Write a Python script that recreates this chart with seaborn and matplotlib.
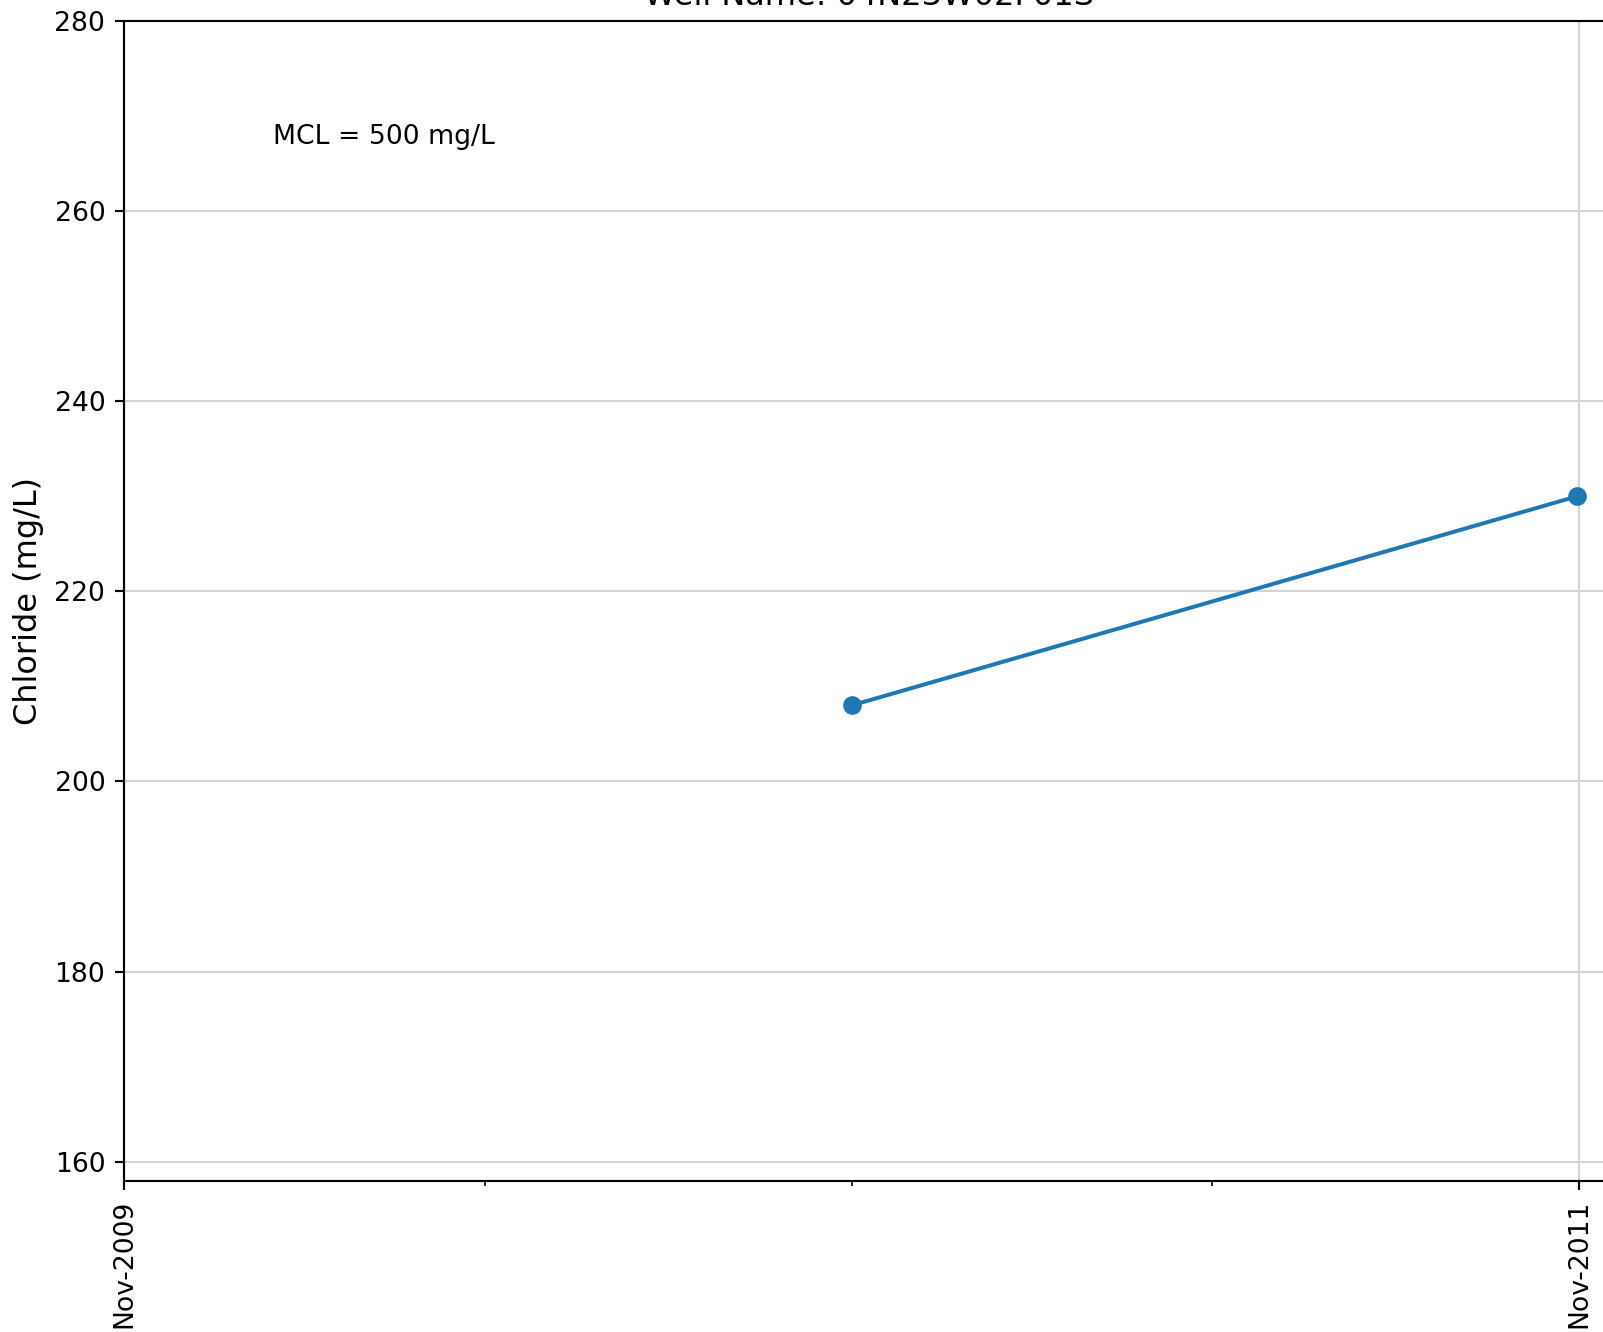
import matplotlib
matplotlib.use("Agg")
import matplotlib.pyplot as plt
import matplotlib.dates as mdates
import pandas as pd
import seaborn as sns

# Data
sample_dates = ["2010-11-01", "2011-10-31"]
chloride = [208, 230]
well_name = "04N23W02F01S"
mcl = 500
major_tick_dates = ["2009-11-01", "2011-11-01"]
x_range = ["2009-11-01", "2011-11-19"]
y_range = [158, 280]

df = pd.DataFrame({"date": pd.to_datetime(sample_dates), "value": chloride})

dpi = 192
fig = plt.figure(figsize=(1603 / dpi, 1332 / dpi), dpi=dpi)
# axes runs past the right edge of the figure, like the reference
ax = fig.add_axes([124 / 1603, 1 - 1180.7 / 1332, (1615 - 124) / 1603, (1180.7 - 21) / 1332])

sns.lineplot(
    data=df, x="date", y="value", ax=ax, marker="o", color="#1f77b4",
    markeredgecolor="#1f77b4", markeredgewidth=1, markersize=6, linewidth=1.5,
)

ax.set_xlim(pd.to_datetime(x_range[0]), pd.to_datetime(x_range[1]))
ax.set_ylim(*y_range)
ax.set_xticks(pd.to_datetime(major_tick_dates))
ax.xaxis.set_major_formatter(mdates.DateFormatter("%b-%Y"))
ax.xaxis.set_minor_locator(mdates.MonthLocator(bymonth=[5, 11]))
ax.tick_params(axis="x", which="major", labelrotation=90)
ax.tick_params(labelsize=10)

ax.grid(True, which="major", color="lightgray")
ax.set_axisbelow(True)

ax.set_xlabel("")
ax.set_ylabel("Chloride (mg/L)", fontsize=12)
ax.set_title(f"Well Name: {well_name}", fontsize=12)
ax.text(0.1, 0.9, f"MCL = {mcl} mg/L", transform=ax.transAxes, fontsize=10, va="center")

fig.savefig("out.png", dpi=dpi)
